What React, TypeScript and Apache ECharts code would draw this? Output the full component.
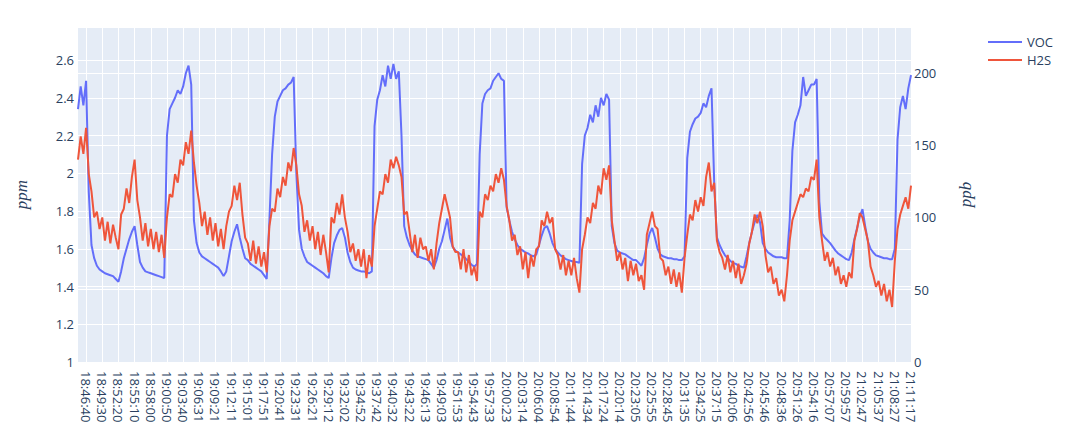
import React, { useEffect, useRef } from "react";
import * as echarts from "echarts";

const tickLabels = [
  "18:46:40", "18:49:30", "18:52:20", "18:55:10", "18:58:00", "19:00:50", "19:03:40", "19:06:31",
  "19:09:21", "19:12:11", "19:15:01", "19:17:51", "19:20:41", "19:23:31", "19:26:21", "19:29:12",
  "19:32:02", "19:34:52", "19:37:42", "19:40:32", "19:43:22", "19:46:13", "19:49:03", "19:51:53",
  "19:54:43", "19:57:33", "20:00:23", "20:03:14", "20:06:04", "20:08:54", "20:11:44", "20:14:34",
  "20:17:24", "20:20:14", "20:23:05", "20:25:55", "20:28:45", "20:31:35", "20:34:25", "20:37:15",
  "20:40:06", "20:42:56", "20:45:46", "20:48:36", "20:51:26", "20:54:16", "20:57:07", "20:59:57",
  "21:02:47", "21:05:37", "21:08:27", "21:11:17",
];

const POINTS_PER_TICK = 6;
const LEAD_POINTS = 3;

const leftTicks = [1, 1.2, 1.4, 1.6, 1.8, 2, 2.2, 2.4, 2.6];
const rightTicks = [0, 50, 100, 150, 200];

// VOC (ppm), left axis
const vocPpm = [
  2.34, 2.46, 2.36,
  2.49, 1.90, 1.62, 1.55, 1.51, 1.49,
  1.48, 1.47, 1.465, 1.46, 1.455, 1.44,
  1.425, 1.48, 1.55, 1.60, 1.65, 1.69,
  1.72, 1.62, 1.53, 1.50, 1.48, 1.475,
  1.47, 1.465, 1.46, 1.455, 1.45, 1.445,
  2.20, 2.34, 2.37, 2.40, 2.44, 2.42,
  2.46, 2.53, 2.57, 2.47, 1.75, 1.63,
  1.58, 1.56, 1.55, 1.54, 1.53, 1.52,
  1.51, 1.50, 1.48, 1.455, 1.48, 1.56,
  1.64, 1.69, 1.73, 1.66, 1.60, 1.55,
  1.54, 1.52, 1.51, 1.50, 1.49, 1.48,
  1.46, 1.44, 1.75, 2.10, 2.30, 2.38,
  2.41, 2.44, 2.45, 2.47, 2.48, 2.51,
  2.00, 1.70, 1.60, 1.56, 1.53, 1.52,
  1.51, 1.50, 1.49, 1.48, 1.47, 1.455,
  1.445, 1.55, 1.63, 1.67, 1.70, 1.71,
  1.66, 1.58, 1.53, 1.50, 1.49, 1.485,
  1.48, 1.48, 1.475, 1.47, 1.48, 2.25,
  2.39, 2.44, 2.52, 2.46, 2.57, 2.50,
  2.58, 2.50, 2.54, 2.20, 1.72, 1.66,
  1.62, 1.59, 1.57, 1.56, 1.555, 1.55,
  1.545, 1.54, 1.52, 1.50, 1.54, 1.60,
  1.64, 1.70, 1.76, 1.66, 1.61, 1.59,
  1.58, 1.57, 1.56, 1.545, 1.53, 1.515,
  1.505, 1.52, 2.10, 2.37, 2.42, 2.44,
  2.45, 2.49, 2.51, 2.53, 2.50, 2.49,
  1.82, 1.75, 1.69, 1.65, 1.62, 1.60,
  1.59, 1.58, 1.575, 1.565, 1.56, 1.57,
  1.62, 1.67, 1.71, 1.72, 1.68, 1.63,
  1.60, 1.58, 1.565, 1.555, 1.545, 1.54,
  1.535, 1.53, 1.53, 1.525, 2.05, 2.20,
  2.24, 2.31, 2.27, 2.36, 2.30, 2.40,
  2.36, 2.42, 2.39, 1.72, 1.63, 1.59,
  1.58, 1.575, 1.57, 1.56, 1.55, 1.54,
  1.54, 1.525, 1.51, 1.55, 1.62, 1.68,
  1.71, 1.66, 1.60, 1.57, 1.56, 1.555,
  1.55, 1.55, 1.545, 1.545, 1.54, 1.54,
  1.56, 2.08, 2.22, 2.26, 2.29, 2.30,
  2.32, 2.37, 2.35, 2.41, 2.45, 1.95,
  1.66, 1.62, 1.59, 1.565, 1.55, 1.535,
  1.525, 1.52, 1.51, 1.505, 1.50, 1.56,
  1.63, 1.69, 1.74, 1.78, 1.74, 1.63,
  1.60, 1.58, 1.57, 1.56, 1.555, 1.555,
  1.555, 1.55, 1.55, 1.75, 2.12, 2.27,
  2.31, 2.36, 2.51, 2.41, 2.44, 2.47,
  2.47, 2.50, 1.85, 1.68, 1.66, 1.645,
  1.63, 1.61, 1.59, 1.575, 1.565, 1.555,
  1.545, 1.54, 1.58, 1.65, 1.71, 1.77,
  1.81, 1.72, 1.64, 1.60, 1.58, 1.565,
  1.56, 1.555, 1.55, 1.55, 1.545, 1.545,
  1.60, 2.18, 2.35, 2.41, 2.34, 2.45,
  2.52,
];

// H2S (ppb), right axis
const h2sPpb = [
  140, 156, 144,
  162, 130, 118, 100, 104, 92,
  100, 84, 97, 82, 95, 86,
  78, 102, 106, 120, 110, 128,
  140, 112, 100, 84, 96, 80,
  92, 78, 90, 76, 88, 72,
  100, 116, 114, 130, 124, 140,
  136, 152, 144, 160, 138, 122,
  110, 94, 104, 88, 100, 84,
  96, 80, 92, 78, 94, 104,
  108, 122, 112, 124, 102, 86,
  82, 70, 84, 68, 80, 66,
  76, 62, 94, 106, 104, 120,
  114, 128, 122, 138, 132, 148,
  136, 116, 108, 90, 98, 84,
  94, 78, 90, 74, 88, 76,
  62, 100, 96, 110, 102, 116,
  100, 90, 76, 82, 70, 78,
  66, 78, 58, 74, 66, 94,
  106, 118, 116, 130, 124, 140,
  134, 142, 136, 128, 102, 104,
  90, 76, 88, 72, 86, 78,
  80, 70, 78, 64, 82, 96,
  106, 116, 108, 100, 80, 76,
  76, 64, 78, 62, 74, 60,
  66, 56, 104, 100, 116, 112,
  122, 118, 130, 124, 134, 126,
  108, 98, 84, 88, 74, 80,
  64, 76, 58, 74, 66, 78,
  80, 98, 94, 104, 96, 100,
  78, 74, 64, 74, 60, 70,
  60, 72, 58, 48, 78, 88,
  100, 96, 110, 106, 122, 116,
  134, 126, 136, 98, 84, 70,
  76, 64, 72, 56, 70, 60,
  68, 56, 60, 50, 88, 96,
  104, 94, 92, 72, 70, 60,
  66, 54, 64, 52, 62, 48,
  72, 88, 102, 98, 112, 104,
  114, 108, 128, 138, 118, 124,
  84, 76, 72, 64, 74, 62,
  70, 58, 68, 54, 60, 68,
  82, 90, 102, 96, 104, 94,
  74, 62, 66, 54, 58, 46,
  50, 42, 60, 84, 98, 104,
  110, 116, 114, 120, 118, 128,
  126, 140, 100, 84, 70, 76,
  66, 72, 60, 66, 54, 60,
  52, 62, 58, 84, 92, 103,
  100, 92, 84, 66, 60, 52,
  56, 46, 54, 42, 50, 38,
  70, 92, 102, 108, 114, 106,
  122,
];

function toSec(s: string): number {
  const [h, m, x] = s.split(":").map(Number);
  return h * 3600 + m * 60 + x;
}
function fmt(t: number): string {
  const h = Math.floor(t / 3600);
  const m = Math.floor((t % 3600) / 60);
  const s = t % 60;
  const p = (n: number) => String(n).padStart(2, "0");
  return `${p(h)}:${p(m)}:${p(s)}`;
}
function buildCategories(): string[] {
  const secs = tickLabels.map(toSec);
  const cats: string[] = [];
  const step0 = (secs[1] - secs[0]) / POINTS_PER_TICK;
  for (let m = LEAD_POINTS; m > 0; m--) cats.push(fmt(Math.round(secs[0] - step0 * m)));
  for (let j = 0; j < secs.length - 1; j++) {
    for (let m = 0; m < POINTS_PER_TICK; m++) {
      cats.push(m === 0 ? tickLabels[j] : fmt(Math.round(secs[j] + ((secs[j + 1] - secs[j]) * m) / POINTS_PER_TICK)));
    }
  }
  cats.push(tickLabels[tickLabels.length - 1]);
  return cats;
}

const TEXT = "#2a3f5f";
const FONT = "Open Sans";

export default function App() {
  const ref = useRef<HTMLDivElement>(null);
  useEffect(() => {
    document.body.style.margin = "0";
    if (!ref.current) return;
    const chart = echarts.init(ref.current, undefined, { renderer: "svg" });
    const cats = buildCategories();
    const isTick = (idx: number) => idx >= LEAD_POINTS && (idx - LEAD_POINTS) % POINTS_PER_TICK === 0;
    chart.setOption({
      animation: false,
      backgroundColor: "#ffffff",
      textStyle: { fontFamily: FONT },
      grid: {
        left: 78,
        right: 156,
        top: 27,
        bottom: 81,
        show: true,
        backgroundColor: "#E5ECF6",
        borderWidth: 0,
      },
      legend: {
        orient: "vertical",
        left: 988,
        top: 34,
        padding: 0,
        itemGap: 2,
        itemWidth: 34,
        itemHeight: 2,
        icon: "rect",
        textStyle: { fontFamily: FONT, fontSize: 13, color: TEXT, lineHeight: 16 },
        data: ["VOC", "H2S"],
      },
      xAxis: {
        type: "category",
        data: cats,
        boundaryGap: false,
        axisLine: { show: false },
        axisTick: { show: false },
        axisLabel: {
          interval: (idx: number) => isTick(idx),
          rotate: -90,
          margin: 9,
          fontSize: 13,
          fontFamily: FONT,
          color: TEXT,
        },
        splitLine: {
          show: true,
          interval: (idx: number) => isTick(idx),
          lineStyle: { color: "#ffffff", width: 1 },
        },
      },
      yAxis: [
        {
          type: "value",
          min: leftTicks[0],
          max: 2.775,
          interval: 0.2,
          name: "ppm",
          nameLocation: "middle",
          nameGap: 48,
          nameTextStyle: { fontFamily: "Liberation Serif", fontStyle: "italic", fontSize: 17, color: TEXT },
          axisLine: { show: false },
          axisTick: { show: false },
          axisLabel: {
            showMaxLabel: false,
            margin: 4,
            fontSize: 13,
            fontFamily: FONT,
            color: TEXT,
            formatter: (v: number) => {
              const hit = leftTicks.find((t) => Math.abs(t - v) < 1e-6);
              return hit === undefined ? "" : String(hit);
            },
          },
          splitLine: { show: true, lineStyle: { color: "#ffffff", width: 1 } },
        },
        {
          type: "value",
          min: rightTicks[0],
          max: 231.7,
          interval: 50,
          name: "ppb",
          nameLocation: "middle",
          nameGap: 46,
          nameTextStyle: { fontFamily: "Liberation Serif", fontStyle: "italic", fontSize: 17, color: TEXT },
          axisLine: { show: false },
          axisTick: { show: false },
          axisLabel: {
            showMaxLabel: false,
            margin: 3,
            fontSize: 13,
            fontFamily: FONT,
            color: TEXT,
            formatter: (v: number) => (rightTicks.includes(v) ? String(v) : ""),
          },
          splitLine: { show: true, lineStyle: { color: "#ffffff", width: 1 } },
        },
      ],
      series: [
        {
          name: "VOC",
          type: "line",
          yAxisIndex: 0,
          data: vocPpm,
          showSymbol: false,
          symbol: "none",
          lineStyle: { color: "#636EFA", width: 2 },
          itemStyle: { color: "#636EFA" },
        },
        {
          name: "H2S",
          type: "line",
          yAxisIndex: 1,
          data: h2sPpb,
          showSymbol: false,
          symbol: "none",
          lineStyle: { color: "#EF553B", width: 2 },
          itemStyle: { color: "#EF553B" },
        },
      ],
    });
    return () => chart.dispose();
  }, []);
  return <div ref={ref} style={{ width: 1067, height: 443 }} />;
}
